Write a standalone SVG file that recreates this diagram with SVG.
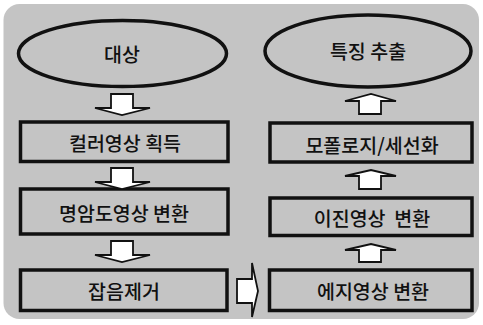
<svg xmlns="http://www.w3.org/2000/svg" width="483" height="325" viewBox="0 0 483 325">
<style>
.bg{fill:#c4c4c4;}
.node{fill:none;stroke:#111;stroke-width:3.5;}
.arr{fill:#fff;stroke:#111;stroke-width:1.8;stroke-linejoin:miter;}
text{font-family:"Noto Sans CJK KR","Noto Sans",sans-serif;font-size:19.5px;font-weight:500;fill:#111;text-anchor:middle;dominant-baseline:central;white-space:pre;}
</style>
<rect class="bg" x="3.5" y="4" width="475.5" height="315" rx="16"/>
<g id="n-daesang"><ellipse class="node" cx="122.5" cy="53.5" rx="104" ry="33"/><text x="122" y="53">대상</text></g>
<g id="n-color"><rect class="node" x="20.5" y="122" width="207.5" height="39.5"/><text x="125" y="142">컬러영상 획득</text></g>
<g id="n-gray"><rect class="node" x="20.5" y="189" width="207.5" height="45"/><text x="124" y="212">명암도영상 변환</text></g>
<g id="n-noise"><rect class="node" x="20.5" y="270" width="206.5" height="40.5"/><text x="124" y="290">잡음제거</text></g>
<g id="n-feature"><ellipse class="node" cx="368" cy="51" rx="103" ry="36"/><text x="368" y="50">특징 추출</text></g>
<g id="n-morph"><rect class="node" x="270" y="123" width="202" height="39"/><text x="372" y="144">모폴로지/세선화</text></g>
<g id="n-binary"><rect class="node" x="270" y="198" width="202" height="37.5"/><text x="372" y="217" xml:space="preserve">이진영상  변환</text></g>
<g id="n-edge"><rect class="node" x="269.5" y="270" width="202.5" height="40.5"/><text x="373" y="290">에지영상 변환</text></g>
<g id="connectors">
<polygon class="arr" points="111,94 133,94 133,108 150,108 122,115 95,108 111,108"/>
<polygon class="arr" points="111,168 133,168 133,182 150,182 122,189 95,182 111,182"/>
<polygon class="arr" points="111,241 133,241 133,255 150,255 122,262 95,255 111,255"/>
<polygon class="arr" points="237,279 252,279 252,263 258,291 252,317 252,303 237,303"/>
<polygon class="arr" points="359,262 381,262 381,250 396,250 371,244 345,250 359,250"/>
<polygon class="arr" points="359,189 381,189 381,176 396,176 371,170 345,176 359,176"/>
<polygon class="arr" points="359,114 381,114 381,101 396,101 371,94 345,101 359,101"/>
</g>
</svg>
